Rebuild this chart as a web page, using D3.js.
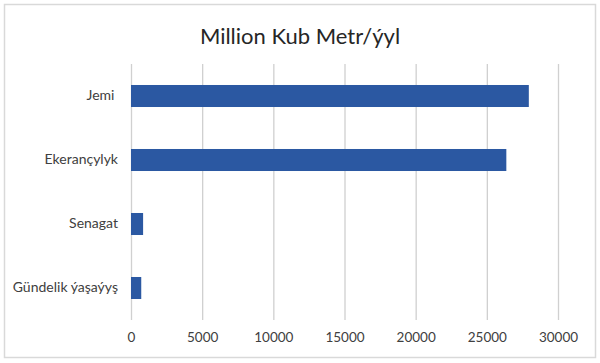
<!DOCTYPE html>
<html><head><meta charset="utf-8">
<script src="https://cdn.jsdelivr.net/npm/d3@7"></script>
<style>html,body{margin:0;padding:0;background:#fff;} svg{display:block;}</style>
</head><body>
<div id="chart"></div>
<script>
const title = "Million Kub Metr/ýyl";
const categories = ["Jemi ", "Ekerançylyk", "Senagat", "Gündelik ýaşaýyş"];
const values = [27950, 26370, 850, 720];
const tickValues = [0, 5000, 10000, 15000, 20000, 25000, 30000];

const W = 600, H = 363;
const font = "Lato, 'Open Sans', sans-serif";
const svg = d3.select("#chart").append("svg").attr("width", W).attr("height", H);

svg.append("rect").attr("x", 4.5).attr("y", 4.5).attr("width", 591).attr("height", 353)
  .attr("fill", "#fff").attr("stroke", "#d9d9d9").attr("stroke-width", 1.5);

const x = d3.scaleLinear().domain([0, 30000]).range([131, 558]);
const y = d3.scaleBand().domain(categories).range([64, 320]).paddingInner(0.656).paddingOuter(0.328);

// gridlines
const xAxis = d3.axisBottom(x).tickValues(tickValues).tickSize(-(320 - 64)).tickSizeOuter(0).tickPadding(12).tickFormat(d3.format("d"));
const gx = svg.append("g").attr("transform", "translate(0,320)").call(xAxis);
gx.select(".domain").remove();
gx.selectAll(".tick line").attr("stroke", "#d0d0d0").attr("stroke-width", 1.3);
gx.selectAll(".tick text").attr("fill", "#404040").style("font-family", font).style("font-size", "13.5px");

// bars
svg.append("g").selectAll("rect").data(values).join("rect")
  .attr("x", x(0))
  .attr("y", (d, i) => y(categories[i]))
  .attr("width", d => x(d) - x(0))
  .attr("height", y.bandwidth())
  .attr("fill", "#2b58a2");

// y labels
const yAxis = d3.axisLeft(y).tickSize(0).tickPadding(13);
const gy = svg.append("g").attr("transform", `translate(${x(0)},0)`).call(yAxis);
gy.select(".domain").remove();
gy.selectAll(".tick text").attr("fill", "#404040").style("white-space", "pre")
  .style("font-family", font).style("font-size", "14px");

svg.append("text").attr("x", 300).attr("y", 44).attr("text-anchor", "middle")
  .attr("fill", "#262626").style("font-family", font).style("font-size", "22px").text(title);
</script>
</body></html>
